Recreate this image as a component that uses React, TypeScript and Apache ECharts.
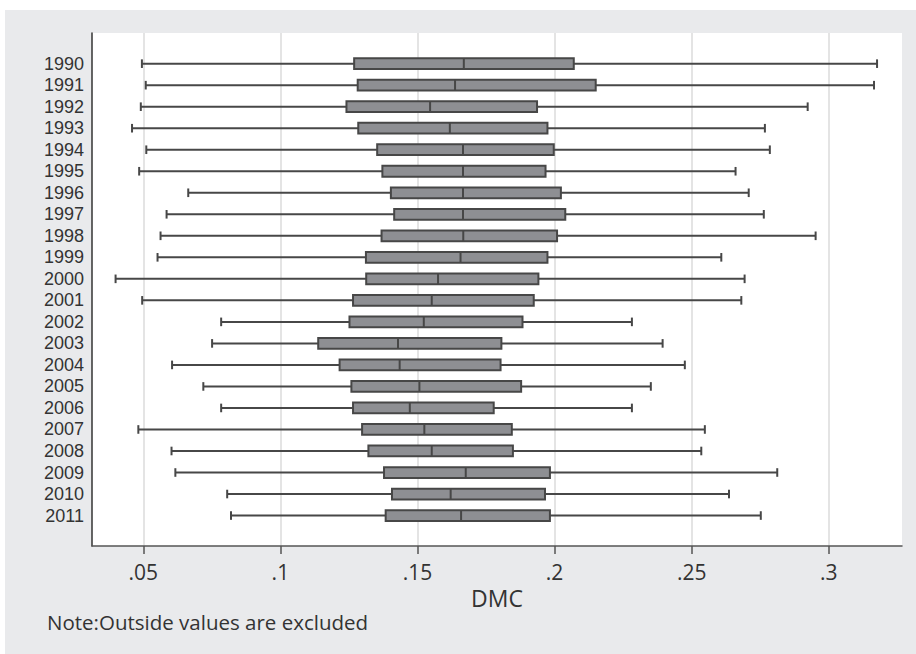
import React, { useEffect, useRef } from "react";
import * as echarts from "echarts";

const years = ["1990","1991","1992","1993","1994","1995","1996","1997","1998","1999","2000","2001","2002","2003","2004","2005","2006","2007","2008","2009","2010","2011"];
const mins = [0.0495,0.0509,0.0491,0.0459,0.0511,0.0485,0.0664,0.0585,0.0563,0.0552,0.0399,0.0496,0.0784,0.0751,0.0605,0.0719,0.0784,0.0482,0.0603,0.0617,0.0806,0.0820];
const q1s = [0.1269,0.1282,0.1241,0.1284,0.1353,0.1372,0.1403,0.1415,0.1369,0.1312,0.1313,0.1265,0.1252,0.1138,0.1216,0.1259,0.1265,0.1298,0.1321,0.1378,0.1407,0.1384];
const medians = [0.1669,0.1637,0.1546,0.1618,0.1666,0.1666,0.1666,0.1666,0.1667,0.1657,0.1575,0.1552,0.1523,0.1429,0.1435,0.1507,0.1472,0.1525,0.1552,0.1676,0.1621,0.1659];
const q3s = [0.2070,0.2150,0.1936,0.1974,0.1997,0.1967,0.2023,0.2039,0.2009,0.1974,0.1941,0.1924,0.1883,0.1806,0.1803,0.1878,0.1778,0.1844,0.1848,0.1983,0.1965,0.1983];
const maxs = [0.3176,0.3165,0.2923,0.2767,0.2785,0.2660,0.2708,0.2763,0.2952,0.2608,0.2693,0.2681,0.2282,0.2394,0.2475,0.2351,0.2282,0.2548,0.2535,0.2812,0.2636,0.2752];
const xTicks = [0.05, 0.1, 0.15, 0.2, 0.25, 0.3];

const X_MIN = 0.0313;
const X_MAX = 0.3267;
const FONT = "'Open Sans', 'Noto Sans', sans-serif";
const LABEL_FONT = "'Liberation Sans', Arial, sans-serif";

export default function App() {
  const ref = useRef<HTMLDivElement>(null);
  useEffect(() => {
    if (!ref.current) return;
    const chart = echarts.init(ref.current, undefined, { renderer: "svg" });
    const data = years.map((_, i) => [i, mins[i], q1s[i], medians[i], q3s[i], maxs[i]]);
    const fmt = (v: number) => String(+v.toFixed(2)).replace(/^0/, "");
    chart.setOption({
      animation: false,
      backgroundColor: "#e9eaec",
      grid: [
        { left: 87, top: 23, width: 810, height: 513, show: true, backgroundColor: "#ffffff", borderWidth: 0 },
        { left: 87, top: 42.9, width: 810, height: 473.4 },
      ],
      xAxis: [
        {
          gridIndex: 0,
          type: "value",
          min: X_MIN,
          max: X_MAX,
          name: "DMC",
          nameLocation: "middle",
          nameGap: 30,
          nameTextStyle: { fontFamily: FONT, fontSize: 23, color: "#333" },
          axisLine: { show: true, onZero: false, lineStyle: { color: "#555", width: 1.5 } },
          axisTick: { show: true, length: 8, customValues: xTicks, lineStyle: { color: "#555", width: 1.5 } },
          axisLabel: { customValues: xTicks, formatter: fmt, margin: 15, fontFamily: FONT, fontSize: 21, color: "#333" },
          splitLine: { show: true, lineStyle: { color: "#e4e4e4", width: 2 } },
        },
        { gridIndex: 1, type: "value", min: X_MIN, max: X_MAX, show: false },
      ],
      yAxis: [
        {
          gridIndex: 0,
          type: "value",
          min: 0,
          max: 1,
          axisLine: { show: true, lineStyle: { color: "#333", width: 1.5 } },
          axisTick: { show: false },
          axisLabel: { show: false },
          splitLine: { show: false },
        },
        {
          gridIndex: 1,
          type: "category",
          inverse: true,
          data: years,
          axisLine: { show: false },
          axisTick: { show: false },
          axisLabel: { interval: 0, margin: 8, fontFamily: LABEL_FONT, fontSize: 18, lineHeight: 19, color: "#333" },
          splitLine: { show: false },
        },
      ],
      graphic: [
        {
          type: "text",
          left: 42,
          top: 601,
          style: { text: "Note:Outside values are excluded", fontFamily: FONT, fontSize: 20.5, fill: "#333" },
        },
      ],
      series: [
        {
          type: "custom",
          xAxisIndex: 1,
          yAxisIndex: 1,
          data,
          encode: { x: [1, 2, 3, 4, 5], y: 0 },
          renderItem: (params: any, api: any) => {
            const idx = api.value(0);
            const pMin = api.coord([api.value(1), idx]);
            const pQ1 = api.coord([api.value(2), idx]);
            const pMed = api.coord([api.value(3), idx]);
            const pQ3 = api.coord([api.value(4), idx]);
            const pMax = api.coord([api.value(5), idx]);
            const band = api.size([0, 1])[1];
            const bh = band * 0.25;
            const ch = band * 0.2;
            const y = pMin[1];
            const stroke = "#474747";
            return {
              type: "group",
              children: [
                { type: "line", shape: { x1: pMin[0], y1: y, x2: pQ1[0], y2: y }, style: { stroke, lineWidth: 2 } },
                { type: "line", shape: { x1: pQ3[0], y1: y, x2: pMax[0], y2: y }, style: { stroke, lineWidth: 2 } },
                { type: "line", shape: { x1: pMin[0], y1: y - ch, x2: pMin[0], y2: y + ch }, style: { stroke, lineWidth: 2 } },
                { type: "line", shape: { x1: pMax[0], y1: y - ch, x2: pMax[0], y2: y + ch }, style: { stroke, lineWidth: 2 } },
                { type: "rect", shape: { x: pQ1[0], y: y - bh, width: pQ3[0] - pQ1[0], height: bh * 2 }, style: { fill: "#8e8f93", stroke, lineWidth: 2 } },
                { type: "line", shape: { x1: pMed[0], y1: y - bh, x2: pMed[0], y2: y + bh }, style: { stroke, lineWidth: 2 } },
              ],
            };
          },
        },
      ],
    });
    return () => chart.dispose();
  }, []);
  return (
    <div style={{ position: "fixed", left: 0, top: 0, width: 916, height: 654, background: "#ffffff" }}>
      <div ref={ref} style={{ position: "absolute", left: 5, top: 10, width: 911, height: 644 }} />
    </div>
  );
}
